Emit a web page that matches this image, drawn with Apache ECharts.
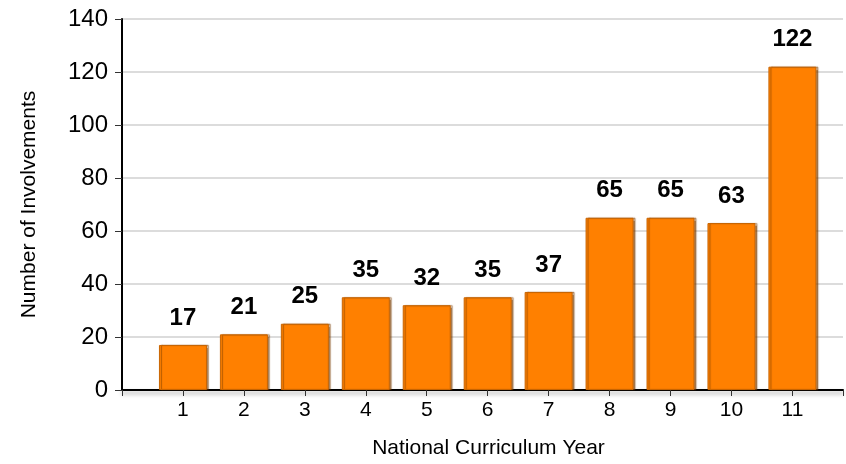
<!DOCTYPE html>
<html>
<head>
<meta charset="utf-8">
<script src="https://cdn.jsdelivr.net/npm/echarts@6/dist/echarts.min.js"></script>
<style>
  html, body { margin: 0; padding: 0; background: #fff; }
  #chart { width: 846px; height: 464px; }
</style>
</head>
<body>
<div id="chart"></div>
<script>
// 数据
const years   = [1, 2, 3, 4, 5, 6, 7, 8, 9, 10, 11];             // 学年
const counts  = [17, 21, 25, 35, 32, 35, 37, 65, 65, 63, 122];    // 参与次数
const yTicks  = [0, 20, 40, 60, 80, 100, 120, 140];               // Y轴刻度

let chart = echarts.init(document.getElementById('chart'));
let font = 'Liberation Sans, Arial, sans-serif';

let option = {
    animation: false,
    grid: { left: 122, right: 0, top: 19, bottom: 72 },
    xAxis: {
        type: 'value',
        min: 0,
        max: 11.83,
        interval: 1,
        name: 'National Curriculum Year',
        nameLocation: 'middle',
        nameGap: 48,
        nameTextStyle: { fontFamily: font, fontSize: 21, color: '#000', padding: [0, 0, 0, 12] },
        axisLine: { lineStyle: { color: '#000', width: 2,
            shadowColor: 'rgba(0,0,0,0.35)', shadowBlur: 4, shadowOffsetY: 3 } },
        axisTick: { show: true, length: 6, lineStyle: { color: '#333' } },
        axisLabel: {
            fontFamily: font, fontSize: 21, color: '#000', margin: 10,
            formatter: v => (years.indexOf(v) >= 0 ? String(v) : '')
        },
        splitLine: { show: false }
    },
    yAxis: {
        type: 'value',
        min: yTicks[0],
        max: yTicks[yTicks.length - 1],
        interval: 20,
        name: 'Number of Involvements',
        nameLocation: 'middle',
        nameGap: 82,
        nameTextStyle: { fontFamily: font, fontSize: 21, color: '#000' },
        axisLine: { show: true, lineStyle: { color: '#000', width: 2 } },
        axisTick: { show: true, length: 7, lineStyle: { color: '#333' } },
        axisLabel: { fontFamily: font, fontSize: 24, color: '#000', margin: 14 },
        splitLine: { lineStyle: { color: '#dcdcdc', width: 2 } }
    },
    series: [{
        type: 'bar',
        barWidth: 48,
        data: years.map((y, i) => [y, counts[i]]),
        itemStyle: {
            color: '#ff8000',
            borderColor: '#c86400',
            borderWidth: 1,
            shadowColor: 'rgba(120,60,0,0.6)',
            shadowOffsetX: 2,
            shadowOffsetY: 0,
            shadowBlur: 1
        },
        label: {
            show: true,
            position: 'top',
            distance: 15,
            fontFamily: font,
            fontSize: 24,
            fontWeight: 'bold',
            color: '#000',
            formatter: p => p.value[1]
        }
    }]
};
chart.setOption(option);
</script>
</body>
</html>
